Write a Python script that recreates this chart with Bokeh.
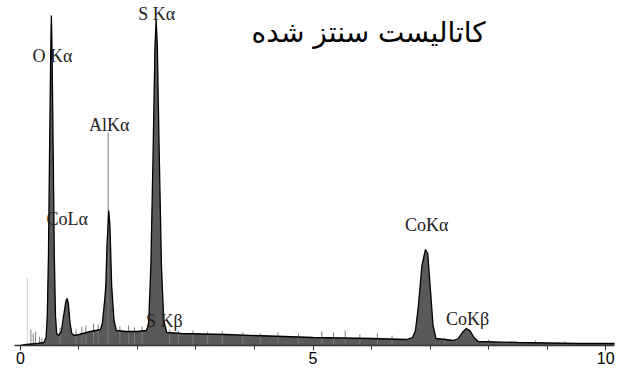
from bokeh.plotting import figure
from bokeh.embed import file_html
from bokeh.resources import INLINE
from bokeh.models import FixedTicker, ColumnDataSource
from bokeh.core.properties import value

# Spectrum outline (energy keV, counts)
energy = [0.00, 0.10, 0.30, 0.40, 0.44, 0.46, 0.48, 0.50, 0.52, 0.53, 0.54, 0.56, 0.58, 0.60,
          0.62, 0.65, 0.70, 0.74, 0.78, 0.80, 0.82, 0.85, 0.88, 0.92, 1.00, 1.20, 1.37,
          1.40, 1.44, 1.46, 1.48, 1.51, 1.53, 1.56, 1.60, 1.64, 1.80, 2.00, 2.15,
          2.19, 2.23, 2.27, 2.30, 2.32, 2.34, 2.37, 2.41, 2.45, 2.50, 2.75, 3.50, 4.50,
          5.00, 6.00, 6.60, 6.70, 6.75, 6.80, 6.86, 6.92, 6.96, 7.00, 7.05, 7.10, 7.40,
          7.48, 7.55, 7.62, 7.68, 7.75, 7.82, 8.50, 9.50, 10.20]
counts = [0, 1, 2, 3, 8, 30, 90, 200, 300, 330, 300, 200, 90, 30,
          12, 10, 14, 30, 45, 47, 42, 22, 12, 10, 11, 14, 16,
          22, 45, 60, 100, 135, 120, 60, 25, 15, 14, 14, 15,
          20, 80, 200, 300, 326, 300, 200, 80, 25, 13, 12, 11, 9,
          8, 7, 6, 8, 15, 40, 80, 96, 92, 60, 20, 7, 5,
          7, 13, 17, 15, 8, 4, 3, 2, 2]

# Noise hairs (energy keV, top counts)
noise_x = [0.18, 0.22, 0.26, 0.33, 0.37, 0.68, 0.95, 1.05, 1.12, 1.25, 1.33, 1.50,
           1.70, 1.85, 1.95, 2.08, 2.55, 2.70, 2.95, 3.20, 3.45, 3.80, 4.10, 4.40,
           4.75, 5.15, 5.35, 5.55, 5.80, 6.10, 6.35, 7.25, 8.00, 8.80, 9.30]
noise_h = [16, 12, 14, 9, 7, 18, 16, 19, 20, 22, 21, 213,
           19, 20, 18, 19, 16, 15, 15, 14, 14, 13, 12, 13,
           12, 14, 13, 15, 11, 12, 10, 8, 6, 5, 4]
faint_x = [0.12]
faint_h = [68]

# Peak labels
peak_names = ["O K\u03b1", "S K\u03b1", "AlK\u03b1", "CoL\u03b1", "S K\u03b2", "CoK\u03b1", "CoK\u03b2"]
label_x = [0.55, 2.33, 1.52, 0.80, 2.46, 6.94, 7.64]
label_y = [290, 332, 221, 127, 25, 121, 27]

title_text = "\u06a9\u0627\u062a\u0627\u0644\u06cc\u0633\u062a \u0633\u0646\u062a\u0632 \u0634\u062f\u0647"

x_ticks = [0, 5, 10]
x_minor = [0, 1, 2, 3, 4, 5, 6, 7, 8, 9, 10]

p = figure(width=618, height=371, output_backend="svg", toolbar_location=None,
           x_range=(-0.1, 10.15), y_range=(0, 345))
p.min_border = 0
p.min_border_left = 14
p.min_border_right = 4
p.min_border_top = 0
p.min_border_bottom = 26
p.outline_line_color = None
p.grid.visible = False
p.yaxis.visible = False
p.background_fill_color = "white"

src = ColumnDataSource(dict(x=energy, y=counts, z=[0] * len(energy)))
p.varea(x="x", y1="z", y2="y", source=src, fill_color="#595959")

fsrc = ColumnDataSource(dict(x=faint_x, y=faint_h, z=[0] * len(faint_x)))
p.segment(x0="x", y0="z", x1="x", y1="y", source=fsrc, line_color="#d0d0d0", line_width=1)

nsrc = ColumnDataSource(dict(x=noise_x, y=noise_h, z=[0] * len(noise_x)))
p.segment(x0="x", y0="z", x1="x", y1="y", source=nsrc, line_color="#7a7a7a", line_width=1)

p.line(x="x", y="y", source=src, line_color="black", line_width=1.3)

lsrc = ColumnDataSource(dict(x=label_x, y=label_y, t=peak_names))
p.text(x="x", y="y", text="t", source=lsrc, text_font=value("Liberation Serif"),
       text_font_size="18px", text_align="center", text_baseline="middle", text_color="#222222")

p.text(x=[5.95], y=[313], text=[title_text], text_font=value("DejaVu Sans"),
       text_font_size="28px", text_align="center", text_baseline="middle", text_color="black")

ax = p.xaxis[0]
ax.ticker = FixedTicker(ticks=x_ticks, minor_ticks=x_minor)
ax.axis_line_color = "#333333"
ax.axis_line_width = 1.5
ax.major_tick_line_color = "#333333"
ax.minor_tick_line_color = "#333333"
ax.major_tick_in = 0
ax.major_tick_out = 5
ax.minor_tick_in = 0
ax.minor_tick_out = 4
ax.major_label_text_font = "Liberation Sans"
ax.major_label_text_font_size = "16px"
ax.major_label_text_color = "black"
ax.major_label_standoff = 1

open("out.html", "w").write(file_html(p, INLINE))
